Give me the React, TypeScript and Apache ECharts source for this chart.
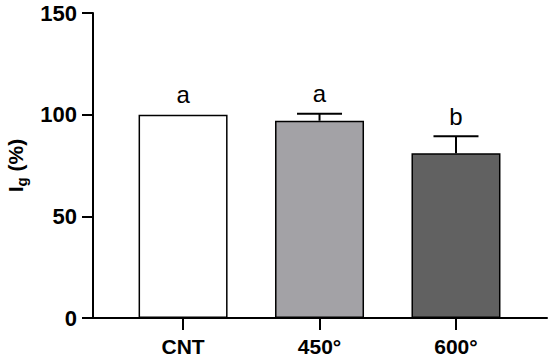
import React, { useEffect, useRef } from "react";
import * as echarts from "echarts";

const categories = ["CNT", "450°", "600°"];
const means = [100, 97, 81];
const errorUpper = [null, 100.5, 89.4];
const letters = ["a", "a", "b"];
const barColors = ["#ffffff", "#a3a2a6", "#616161"];
const yTicks = [0, 50, 100, 150];

export default function App() {
  const ref = useRef<HTMLDivElement>(null);
  useEffect(() => {
    const chart = echarts.init(ref.current!, null, { renderer: "svg" });
    const font = "'Liberation Sans', Arial, sans-serif";
    const barData = means.map((v, i) => ({
      value: [i, v],
      itemStyle: { color: barColors[i], borderColor: "#000", borderWidth: 1.5 },
    }));
    const errData: number[][] = [];
    means.forEach((v, i) => {
      const u = errorUpper[i];
      if (u != null) errData.push([i, v, u]);
    });
    const letterData = means.map((v, i) => [i, Math.max(v, errorUpper[i] ?? v)]);
    chart.setOption({
      animation: false,
      grid: { left: 93, right: 3, top: 13, bottom: 41, containLabel: false, outerBoundsMode: "none" },
      xAxis: {
        type: "value",
        min: -0.66,
        max: 2.667,
        splitLine: { show: false },
        axisLine: { show: true, onZero: false, lineStyle: { color: "#000", width: 2 } },
        axisTick: { show: true, length: 12, lineStyle: { color: "#000", width: 2 }, customValues: [0, 1, 2] },
        axisLabel: {
          customValues: [0, 1, 2],
          formatter: (v: number) => categories[Math.round(v)],
          fontFamily: font,
          fontWeight: "bold",
          fontSize: 21,
          color: "#000",
          margin: 18,
        },
      },
      yAxis: {
        type: "value",
        min: yTicks[0],
        max: yTicks[yTicks.length - 1],
        interval: 50,
        splitLine: { show: false },
        axisLine: { show: true, onZero: false, lineStyle: { color: "#000", width: 2 } },
        axisTick: { show: true, length: 11, lineStyle: { color: "#000", width: 2 } },
        axisLabel: { fontFamily: font, fontWeight: "bold", fontSize: 22, color: "#000", margin: 16 },
        name: "{m|I}{s|g}{m| (%)}",
        nameLocation: "middle",
        nameGap: 62,
        nameTextStyle: {
          rich: {
            m: { fontFamily: font, fontWeight: "bold", fontSize: 21, color: "#000" },
            s: { fontFamily: font, fontWeight: "bold", fontSize: 15, color: "#000", padding: [12, 0, 0, 0] },
          },
        },
      },
      series: [
        {
          type: "bar",
          data: barData,
          barWidth: 89,
        },
        {
          type: "custom",
          data: errData,
          z: 1,
          renderItem: (params: any, api: any) => {
            const x = api.value(0);
            const lo = api.coord([x, api.value(1)]);
            const hi = api.coord([x, api.value(2)]);
            const half = 22.5;
            const style = { stroke: "#000", lineWidth: 2 };
            return {
              type: "group",
              children: [
                { type: "line", shape: { x1: lo[0], y1: lo[1], x2: hi[0], y2: hi[1] }, style },
                { type: "line", shape: { x1: hi[0] - half, y1: hi[1], x2: hi[0] + half, y2: hi[1] }, style },
              ],
            };
          },
        },
        {
          type: "custom",
          data: letterData,
          renderItem: (params: any, api: any) => {
            const p = api.coord([api.value(0), api.value(1)]);
            return {
              type: "text",
              x: p[0],
              y: p[1] - 20,
              style: {
                text: letters[params.dataIndex],
                fontFamily: font,
                fontSize: 24,
                fill: "#000",
                align: "center",
                verticalAlign: "middle",
              },
            };
          },
        },
      ],
    });
    return () => chart.dispose();
  }, []);
  return <div ref={ref} style={{ width: 550, height: 359, position: "absolute", left: 0, top: 0 }} />;
}
